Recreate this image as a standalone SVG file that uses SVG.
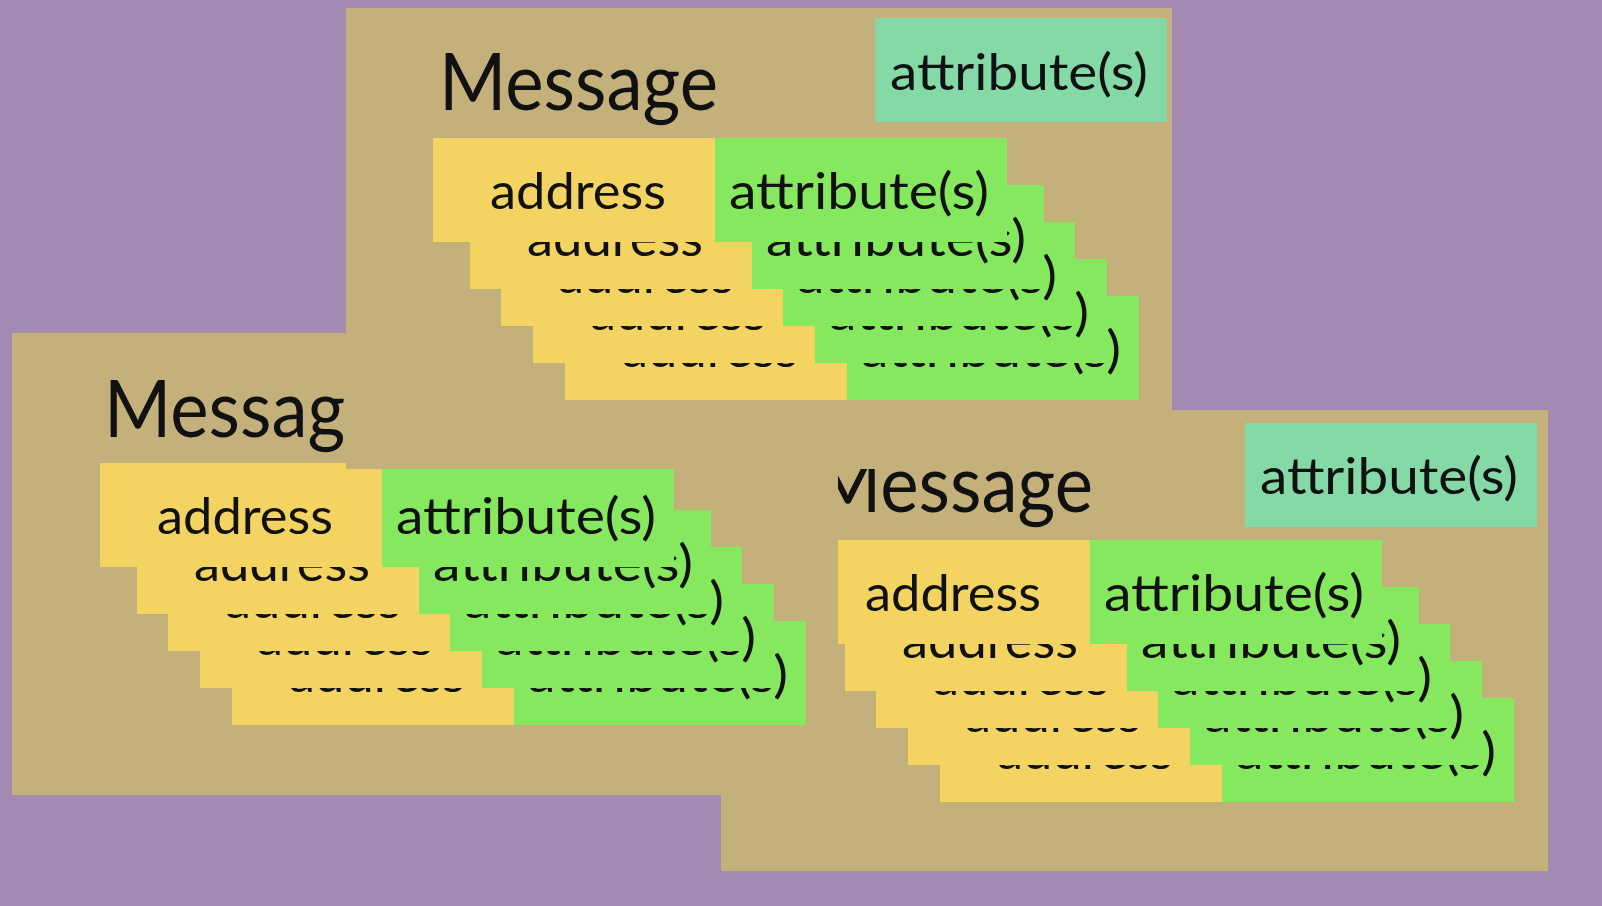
<svg xmlns="http://www.w3.org/2000/svg" width="1602" height="906" viewBox="0 0 1602 906">
  <defs>
    <style>
      .bg { fill: #a28ab3; }
      .panel { fill: #c3b07b; }
      .addr { fill: #f3d463; }
      .attr { fill: #86e85e; }
      .teal { fill: #84d9a7; }
      text { font-family: "Lato", "Open Sans", "Liberation Sans", sans-serif; fill: #111111; }
      .title { font-size: 80px; }
      .lbl { font-size: 50px; }
    </style>
  </defs>
  <rect class="bg" x="0" y="0" width="1602" height="906"/>

  <!-- Right panel (bottom layer) -->
  <g id="panel-right">
    <rect class="panel" x="721" y="410" width="827" height="461"/>
    <text class="title" x="814" y="512" textLength="279" lengthAdjust="spacingAndGlyphs">Message</text>
    <g id="right-attr-header">
      <rect class="teal" x="1245" y="423" width="292" height="104"/>
      <text class="lbl" x="1260" y="494" textLength="258" lengthAdjust="spacingAndGlyphs">attribute(s)</text>
    </g>
    <g transform="translate(940,698)">
      <rect class="addr" width="282" height="104"/>
      <text class="lbl" x="57" y="71" textLength="176" lengthAdjust="spacingAndGlyphs">address</text>
      <rect class="attr" x="282" width="292" height="104"/>
      <text class="lbl" x="296" y="71" textLength="260" lengthAdjust="spacingAndGlyphs">attribute(s)</text>
    </g>
    <g transform="translate(908,661)">
      <rect class="addr" width="282" height="104"/>
      <text class="lbl" x="57" y="71" textLength="176" lengthAdjust="spacingAndGlyphs">address</text>
      <rect class="attr" x="282" width="292" height="104"/>
      <text class="lbl" x="296" y="71" textLength="260" lengthAdjust="spacingAndGlyphs">attribute(s)</text>
    </g>
    <g transform="translate(876,624)">
      <rect class="addr" width="282" height="104"/>
      <text class="lbl" x="57" y="71" textLength="176" lengthAdjust="spacingAndGlyphs">address</text>
      <rect class="attr" x="282" width="292" height="104"/>
      <text class="lbl" x="296" y="71" textLength="260" lengthAdjust="spacingAndGlyphs">attribute(s)</text>
    </g>
    <g transform="translate(845,587)">
      <rect class="addr" width="282" height="104"/>
      <text class="lbl" x="57" y="71" textLength="176" lengthAdjust="spacingAndGlyphs">address</text>
      <rect class="attr" x="282" width="292" height="104"/>
      <text class="lbl" x="296" y="71" textLength="260" lengthAdjust="spacingAndGlyphs">attribute(s)</text>
    </g>
    <g transform="translate(808,540)">
      <rect class="addr" width="282" height="104"/>
      <text class="lbl" x="57" y="71" textLength="176" lengthAdjust="spacingAndGlyphs">address</text>
      <rect class="attr" x="282" width="292" height="104"/>
      <text class="lbl" x="296" y="71" textLength="260" lengthAdjust="spacingAndGlyphs">attribute(s)</text>
    </g>
  </g>

  <!-- Left panel (middle layer) -->
  <g id="panel-left">
    <rect class="panel" x="12" y="333" width="826" height="462"/>
    <text class="title" x="104" y="437" textLength="279" lengthAdjust="spacingAndGlyphs">Message</text>
    <g transform="translate(232,621)">
      <rect class="addr" width="282" height="104"/>
      <text class="lbl" x="57" y="71" textLength="176" lengthAdjust="spacingAndGlyphs">address</text>
      <rect class="attr" x="282" width="292" height="104"/>
      <text class="lbl" x="296" y="71" textLength="260" lengthAdjust="spacingAndGlyphs">attribute(s)</text>
    </g>
    <g transform="translate(200,584)">
      <rect class="addr" width="282" height="104"/>
      <text class="lbl" x="57" y="71" textLength="176" lengthAdjust="spacingAndGlyphs">address</text>
      <rect class="attr" x="282" width="292" height="104"/>
      <text class="lbl" x="296" y="71" textLength="260" lengthAdjust="spacingAndGlyphs">attribute(s)</text>
    </g>
    <g transform="translate(168,547)">
      <rect class="addr" width="282" height="104"/>
      <text class="lbl" x="57" y="71" textLength="176" lengthAdjust="spacingAndGlyphs">address</text>
      <rect class="attr" x="282" width="292" height="104"/>
      <text class="lbl" x="296" y="71" textLength="260" lengthAdjust="spacingAndGlyphs">attribute(s)</text>
    </g>
    <g transform="translate(137,510)">
      <rect class="addr" width="282" height="104"/>
      <text class="lbl" x="57" y="71" textLength="176" lengthAdjust="spacingAndGlyphs">address</text>
      <rect class="attr" x="282" width="292" height="104"/>
      <text class="lbl" x="296" y="71" textLength="260" lengthAdjust="spacingAndGlyphs">attribute(s)</text>
    </g>
    <g transform="translate(100,463)">
      <rect class="addr" width="282" height="104"/>
      <text class="lbl" x="57" y="71" textLength="176" lengthAdjust="spacingAndGlyphs">address</text>
      <rect class="attr" x="282" width="292" height="104"/>
      <text class="lbl" x="296" y="71" textLength="260" lengthAdjust="spacingAndGlyphs">attribute(s)</text>
    </g>
  </g>

  <!-- Top panel (top layer) -->
  <g id="panel-top">
    <rect class="panel" x="346" y="8" width="826" height="461"/>
    <text class="title" x="439" y="110" textLength="279" lengthAdjust="spacingAndGlyphs">Message</text>
    <g id="top-attr-header">
      <rect class="teal" x="875" y="18" width="292" height="104"/>
      <text class="lbl" x="890" y="90" textLength="258" lengthAdjust="spacingAndGlyphs">attribute(s)</text>
    </g>
    <g transform="translate(565,296)">
      <rect class="addr" width="282" height="104"/>
      <text class="lbl" x="57" y="71" textLength="176" lengthAdjust="spacingAndGlyphs">address</text>
      <rect class="attr" x="282" width="292" height="104"/>
      <text class="lbl" x="296" y="71" textLength="260" lengthAdjust="spacingAndGlyphs">attribute(s)</text>
    </g>
    <g transform="translate(533,259)">
      <rect class="addr" width="282" height="104"/>
      <text class="lbl" x="57" y="71" textLength="176" lengthAdjust="spacingAndGlyphs">address</text>
      <rect class="attr" x="282" width="292" height="104"/>
      <text class="lbl" x="296" y="71" textLength="260" lengthAdjust="spacingAndGlyphs">attribute(s)</text>
    </g>
    <g transform="translate(501,222)">
      <rect class="addr" width="282" height="104"/>
      <text class="lbl" x="57" y="71" textLength="176" lengthAdjust="spacingAndGlyphs">address</text>
      <rect class="attr" x="282" width="292" height="104"/>
      <text class="lbl" x="296" y="71" textLength="260" lengthAdjust="spacingAndGlyphs">attribute(s)</text>
    </g>
    <g transform="translate(470,185)">
      <rect class="addr" width="282" height="104"/>
      <text class="lbl" x="57" y="71" textLength="176" lengthAdjust="spacingAndGlyphs">address</text>
      <rect class="attr" x="282" width="292" height="104"/>
      <text class="lbl" x="296" y="71" textLength="260" lengthAdjust="spacingAndGlyphs">attribute(s)</text>
    </g>
    <g transform="translate(433,138)">
      <rect class="addr" width="282" height="104"/>
      <text class="lbl" x="57" y="71" textLength="176" lengthAdjust="spacingAndGlyphs">address</text>
      <rect class="attr" x="282" width="292" height="104"/>
      <text class="lbl" x="296" y="71" textLength="260" lengthAdjust="spacingAndGlyphs">attribute(s)</text>
    </g>
  </g>
</svg>
